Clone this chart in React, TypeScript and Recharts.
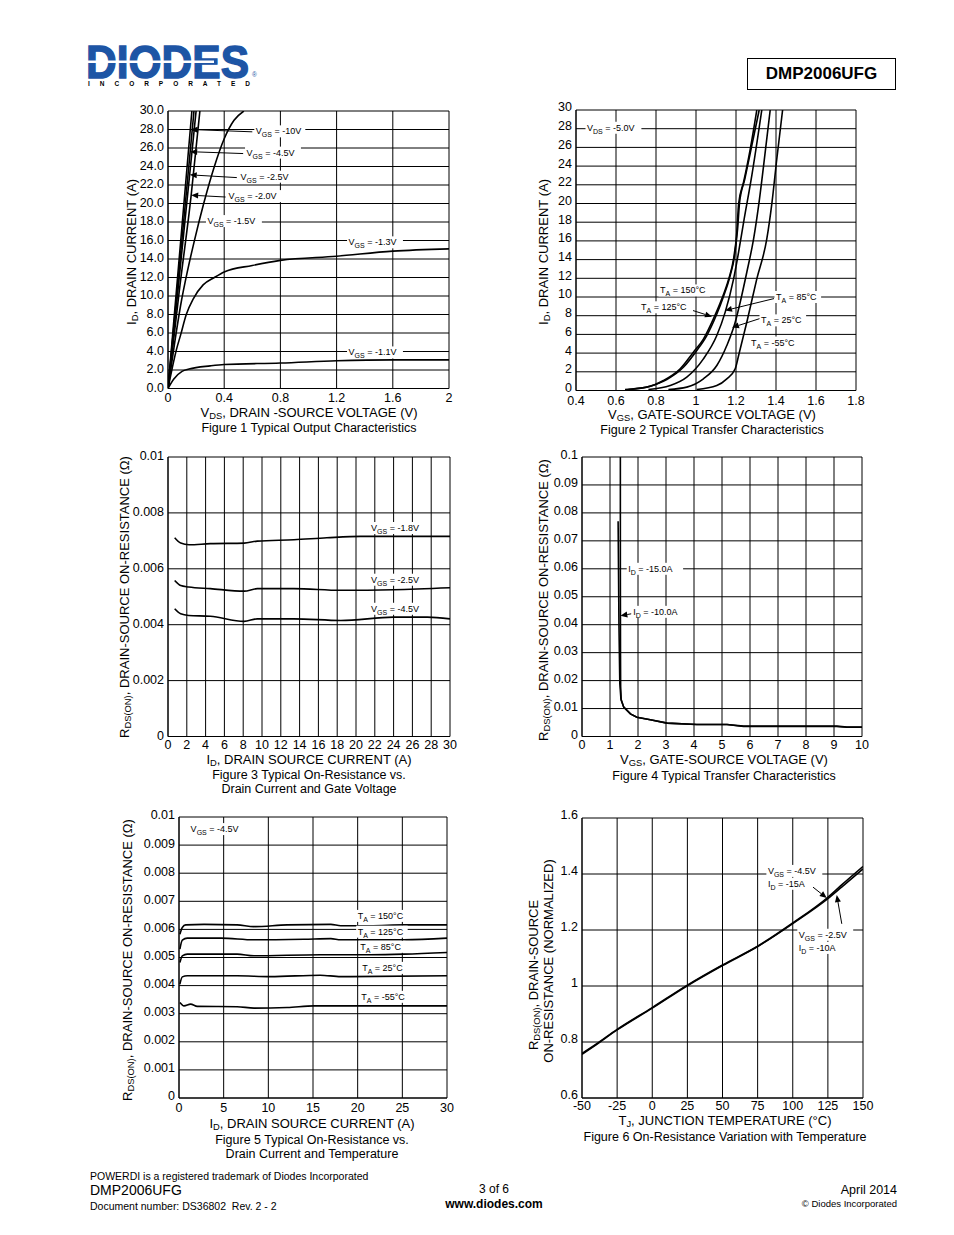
import React from "react";
import { LineChart, Line, XAxis, YAxis, CartesianGrid, ReferenceDot, ReferenceLine } from "recharts";

type Pt = [number, number];
type Anno = { x: number; y: number; a: string; s?: string; b: string };
type Arrow = [Pt, Pt];

const FONT = '"Liberation Sans", Arial, Helvetica, sans-serif';

// ---- Figure 1: output characteristics (VDS, ID)
const FIG1_VGS_10: Pt[] = [[0, 0], [0.085, 15], [0.17, 30]];
const FIG1_VGS_45: Pt[] = [[0, 0], [0.09, 14.6], [0.185, 30]];
const FIG1_VGS_25: Pt[] = [[0, 0], [0.1, 15], [0.2, 30]];
const FIG1_VGS_20: Pt[] = [[0, 0], [0.08, 10.5], [0.165, 20.9], [0.227, 30]];
const FIG1_VGS_15: Pt[] = [[0, 0], [0.05, 5.2], [0.09, 9], [0.14, 12.8], [0.185, 15.8], [0.256, 20.1], [0.33, 24], [0.4, 27], [0.47, 29], [0.54, 30]];
const FIG1_VGS_13: Pt[] = [[0, 0], [0.03, 2.2], [0.06, 4.2], [0.09, 5.8], [0.13, 8], [0.18, 9.7], [0.25, 11.2], [0.33, 12], [0.4, 12.6], [0.6, 13.3], [0.8, 13.85], [1.2, 14.3], [1.6, 14.85], [2, 15.1]];
const FIG1_VGS_11: Pt[] = [[0, 0], [0.04, 1], [0.1, 1.85], [0.15, 2.1], [0.3, 2.45], [0.4, 2.6], [0.8, 2.75], [1.2, 3], [1.6, 3.1], [2, 3.1]];
const FIG1_X_TICKS = [0, 0.4, 0.8, 1.2, 1.6, 2];
const FIG1_Y_TICKS = [0, 2, 4, 6, 8, 10, 12, 14, 16, 18, 20, 22, 24, 26, 28, 30];
const FIG1_LABELS: Anno[] = [
  { x: 0.625, y: 27.8, a: "V", s: "GS", b: " = -10V" },
  { x: 0.559, y: 25.5, a: "V", s: "GS", b: " = -4.5V" },
  { x: 0.516, y: 22.9, a: "V", s: "GS", b: " = -2.5V" },
  { x: 0.431, y: 20.8, a: "V", s: "GS", b: " = -2.0V" },
  { x: 0.281, y: 18.1, a: "V", s: "GS", b: " = -1.5V" },
  { x: 1.285, y: 15.8, a: "V", s: "GS", b: " = -1.3V" },
  { x: 1.285, y: 3.9, a: "V", s: "GS", b: " = -1.1V" },
];
const FIG1_ARROWS: Arrow[] = [
  [[0.6, 27.75], [0.16, 28]],
  [[0.535, 25.4], [0.158, 25.6]],
  [[0.49, 22.8], [0.155, 23.1]],
  [[0.41, 20.7], [0.165, 20.9]],
];

// ---- Figure 2: transfer characteristics (VGS, ID)
const FIG2_T150: Pt[] = [[0.645, 0.11], [0.754, 0.36], [0.837, 1.07], [0.921, 2.32], [0.987, 4.1], [1.037, 5.5], [1.087, 7.66], [1.129, 9.8], [1.163, 11.9], [1.188, 14.1], [1.204, 16.9], [1.213, 19.95], [1.238, 22.3], [1.271, 25.8], [1.304, 30]];
const FIG2_T125: Pt[] = [[0.662, 0.11], [0.77, 0.46], [0.854, 1.18], [0.937, 2.49], [1.004, 4.28], [1.054, 5.88], [1.101, 8.02], [1.138, 10.08], [1.171, 12.29], [1.193, 14.43], [1.208, 17.28], [1.218, 20.13], [1.244, 22.6], [1.279, 26.2], [1.316, 30]];
const FIG2_T85: Pt[] = [[0.762, 0.11], [0.871, 0.53], [0.954, 1.43], [1.037, 3.38], [1.104, 5.88], [1.146, 8.38], [1.188, 11.94], [1.213, 14.79], [1.238, 17.99], [1.279, 22.98], [1.329, 30]];
const FIG2_T25: Pt[] = [[0.862, 0.11], [0.954, 0.36], [1.037, 1.25], [1.104, 2.67], [1.154, 4.81], [1.196, 7.3], [1.221, 9.44], [1.254, 12.65], [1.288, 16.21], [1.313, 19.77], [1.338, 24.05], [1.371, 30]];
const FIG2_TM55: Pt[] = [[1.004, 0.11], [1.104, 0.53], [1.154, 1.25], [1.196, 2.32], [1.213, 3.74], [1.254, 7.3], [1.304, 11.94], [1.354, 16.21], [1.38, 20.13], [1.404, 24.76], [1.433, 30]];
const FIG2_X_TICKS = [0.4, 0.6, 0.8, 1, 1.2, 1.4, 1.6, 1.8];
const FIG2_Y_TICKS = [0, 2, 4, 6, 8, 10, 12, 14, 16, 18, 20, 22, 24, 26, 28, 30];
const FIG2_LABELS: Anno[] = [
  { x: 0.455, y: 28.1, a: "V", s: "DS", b: " = -5.0V" },
  { x: 0.82, y: 10.7, a: "T", s: "A", b: " = 150°C" },
  { x: 0.725, y: 8.9, a: "T", s: "A", b: " = 125°C" },
  { x: 1.4, y: 10.0, a: "T", s: "A", b: " = 85°C" },
  { x: 1.325, y: 7.5, a: "T", s: "A", b: " = 25°C" },
  { x: 1.275, y: 5.13, a: "T", s: "A", b: " = -55°C" },
];
const FIG2_ARROWS: Arrow[] = [
  [[0.985, 8.55], [1.08, 7.9]],
  [[1.39, 9.83], [1.145, 8.55]],
  [[1.32, 7.7], [1.18, 6.73]],
];

// ---- Figure 3: RDS(ON) vs ID and VGS
const FIG3_VGS_18: Pt[] = [[0.71, 0.00711], [1.35, 0.00692], [2.23, 0.00686], [4.5, 0.0069], [8.1, 0.00692], [9.5, 0.00699], [13.4, 0.00704], [16.9, 0.00711], [20.5, 0.00716], [24, 0.00716], [30, 0.00716]];
const FIG3_VGS_25: Pt[] = [[0.71, 0.00558], [1.35, 0.0054], [2.2, 0.00535], [4.5, 0.00529], [8.1, 0.0052], [9.5, 0.00529], [13.4, 0.00529], [18.4, 0.00523], [24, 0.00525], [30, 0.00532]];
const FIG3_VGS_45: Pt[] = [[0.71, 0.00457], [1.35, 0.00439], [2.2, 0.00433], [4.5, 0.0043], [8.1, 0.00412], [9.5, 0.00421], [13.4, 0.00421], [18.4, 0.00415], [24, 0.00427], [27.6, 0.00427], [30, 0.00421]];
const FIG3_X_TICKS = [0, 2, 4, 6, 8, 10, 12, 14, 16, 18, 20, 22, 24, 26, 28, 30];
const FIG3_Y_TICKS = [0, 0.002, 0.004, 0.006, 0.008, 0.01];
const FIG3_LABELS: Anno[] = [
  { x: 21.6, y: 0.00746, a: "V", s: "GS", b: " = -1.8V" },
  { x: 21.6, y: 0.00561, a: "V", s: "GS", b: " = -2.5V" },
  { x: 21.6, y: 0.00457, a: "V", s: "GS", b: " = -4.5V" },
];

// ---- Figure 4: RDS(ON) vs VGS
const FIG4_ID15: Pt[] = [[1.37, 0.1], [1.37, 0.06], [1.375, 0.03], [1.38, 0.018], [1.4, 0.013], [1.49, 0.0105], [1.73, 0.0081], [1.96, 0.0069], [2.44, 0.006], [3.04, 0.0048], [4.1, 0.0043], [5.18, 0.0043], [5.77, 0.0036], [6.7, 0.0036], [9.1, 0.0036], [9.46, 0.0033], [10, 0.0033]];
const FIG4_ID10: Pt[] = [[1.29, 0.077], [1.32, 0.04], [1.35, 0.019], [1.39, 0.0135], [1.49, 0.0105], [1.73, 0.0081], [1.96, 0.0069], [2.44, 0.006], [3.04, 0.0048], [4.1, 0.0043], [5.18, 0.0043], [5.77, 0.0037], [6.7, 0.0037], [9.1, 0.0037], [9.46, 0.0034], [10, 0.0034]];
const FIG4_X_TICKS = [0, 1, 2, 3, 4, 5, 6, 7, 8, 9, 10];
const FIG4_Y_TICKS = [0, 0.01, 0.02, 0.03, 0.04, 0.05, 0.06, 0.07, 0.08, 0.09, 0.1];
const FIG4_LABELS: Anno[] = [
  { x: 1.65, y: 0.06, a: "I", s: "D", b: " = -15.0A" },
  { x: 1.83, y: 0.0446, a: "I", s: "D", b: " = -10.0A" },
];
const FIG4_ARROWS: Arrow[] = [[[1.76, 0.0439], [1.37, 0.0432]]];

// ---- Figure 5: RDS(ON) vs ID and temperature
const FIG5_T150: Pt[] = [[0.1, 0.00583], [0.37, 0.00607], [0.75, 0.00616], [2.8, 0.00618], [6.5, 0.00616], [8.4, 0.0061], [12.1, 0.00616], [17, 0.00618], [18.1, 0.00613], [21.4, 0.00613], [25.2, 0.00616], [30, 0.00616]];
const FIG5_T125: Pt[] = [[0.1, 0.0053], [0.37, 0.00562], [0.93, 0.00569], [4.7, 0.00569], [8.4, 0.00563], [14, 0.00565], [17, 0.00567], [18.1, 0.00563], [25.2, 0.00563], [30, 0.00569]];
const FIG5_T85: Pt[] = [[0.1, 0.00482], [0.37, 0.00506], [0.93, 0.00512], [6.5, 0.00512], [8.4, 0.00506], [15.8, 0.0051], [21.4, 0.0051], [25.2, 0.00512], [30, 0.00518]];
const FIG5_T25: Pt[] = [[0.1, 0.00405], [0.37, 0.00431], [0.93, 0.00435], [6.5, 0.00435], [10.2, 0.00432], [15.8, 0.00437], [18.1, 0.00432], [30, 0.00435]];
const FIG5_TM55: Pt[] = [[0.1, 0.0034], [0.56, 0.00328], [1.3, 0.00334], [2.05, 0.00326], [6.5, 0.00325], [8.4, 0.0032], [12.1, 0.00322], [15.1, 0.00328], [30, 0.00328]];
const FIG5_X_TICKS = [0, 5, 10, 15, 20, 25, 30];
const FIG5_Y_TICKS = [0, 0.001, 0.002, 0.003, 0.004, 0.005, 0.006, 0.007, 0.008, 0.009, 0.01];
const FIG5_LABELS: Anno[] = [
  { x: 1.3, y: 0.00957, a: "V", s: "GS", b: " = -4.5V" },
  { x: 20, y: 0.00648, a: "T", s: "A", b: " = 150°C" },
  { x: 20, y: 0.00592, a: "T", s: "A", b: " = 125°C" },
  { x: 20.3, y: 0.00538, a: "T", s: "A", b: " = 85°C" },
  { x: 20.5, y: 0.00463, a: "T", s: "A", b: " = 25°C" },
  { x: 20.4, y: 0.0036, a: "T", s: "A", b: " = -55°C" },
];

// ---- Figure 6: normalized RDS(ON) vs junction temperature
const FIG6_VGS45: Pt[] = [[-50, 0.759], [-40, 0.792], [-25, 0.845], [0, 0.923], [25, 1.003], [50, 1.075], [75, 1.142], [100, 1.225], [125, 1.317], [135, 1.362], [150, 1.427]];
const FIG6_VGS25: Pt[] = [[-50, 0.756], [-40, 0.79], [-25, 0.843], [0, 0.921], [25, 1.001], [50, 1.073], [75, 1.141], [100, 1.223], [125, 1.312], [135, 1.354], [150, 1.418]];
const FIG6_X_TICKS = [-50, -25, 0, 25, 50, 75, 100, 125, 150];
const FIG6_Y_TICKS = [0.6, 0.8, 1, 1.2, 1.4, 1.6];
const FIG6_LABELS: Anno[] = [
  { x: 82.3, y: 1.411, a: "V", s: "GS", b: " = -4.5V" },
  { x: 82.3, y: 1.365, a: "I", s: "D", b: " = -15A" },
  { x: 104.3, y: 1.183, a: "V", s: "GS", b: " = -2.5V" },
  { x: 104.3, y: 1.136, a: "I", s: "D", b: " = -10A" },
];
const FIG6_ARROWS: Arrow[] = [
  [[114.2, 1.354], [124.2, 1.314]],
  [[134.9, 1.222], [131.3, 1.325]],
];

const toData = (pts: Pt[]) => pts.map(([x, y]) => ({ x, y }));

const annoShape = (a: Anno) => (props: any) => {
  const { cx, cy } = props;
  const w = (a.a.length + a.b.length) * 4.9 + (a.s ? a.s.length * 4.4 : 0);
  return (
    <g>
      <rect x={cx - 1.5} y={cy - 6} width={w + 3} height={12} fill="#fff" />
      <text x={cx} y={cy + 3} fontSize={9} fontFamily={FONT} fill="#000">
        <tspan>{a.a}</tspan>
        {a.s && <tspan dy={3} fontSize={7}>{a.s}</tspan>}
        <tspan dy={a.s ? -3 : 0}>{a.b}</tspan>
      </text>
    </g>
  );
};

const arrowShape = (props: any) => {
  const { x1, y1, x2, y2 } = props;
  const ang = Math.atan2(y2 - y1, x2 - x1);
  const L = 7;
  const W = 3;
  const bx = x2 - L * Math.cos(ang);
  const by = y2 - L * Math.sin(ang);
  const px = -Math.sin(ang) * W;
  const py = Math.cos(ang) * W;
  return (
    <g>
      <line x1={x1} y1={y1} x2={bx} y2={by} stroke="#000" strokeWidth={1} />
      <polygon points={`${x2},${y2} ${bx + px},${by + py} ${bx - px},${by - py}`} fill="#000" />
    </g>
  );
};

interface PanelProps {
  left: number;
  top: number;
  width: number;
  height: number;
  xDomain: [number, number];
  xTicks: number[];
  xFmt?: (v: number) => string;
  xGap: number;
  yDomain: [number, number];
  yTicks: number[];
  yFmt?: (v: number) => string;
  yDy?: number;
  series: Pt[][];
  curve?: "monotone" | "linear";
  labels: Anno[];
  arrows?: Arrow[];
}

const PAD_L = 60;
const PAD_R = 20;
const PAD_T = 10;
const PAD_B = 30;

const Panel = (p: PanelProps) => {
  const tick = { fill: "#000", fontSize: 12.5, fontFamily: FONT };
  return (
    <div style={{ position: "absolute", left: p.left - PAD_L, top: p.top - PAD_T }}>
      <LineChart
        width={p.width + PAD_L + PAD_R}
        height={p.height + PAD_T + PAD_B}
        margin={{ top: PAD_T, right: PAD_R, bottom: 0, left: 0 }}
      >
        <CartesianGrid stroke="#000" strokeWidth={1} />
        <XAxis
          type="number"
          dataKey="x"
          domain={p.xDomain}
          ticks={p.xTicks}
          interval={0}
          allowDataOverflow
          height={PAD_B}
          tickSize={0}
          tickMargin={p.xGap}
          axisLine={{ stroke: "#000" }}
          tick={tick}
          tickFormatter={p.xFmt}
        />
        <YAxis
          type="number"
          dataKey="y"
          domain={p.yDomain}
          ticks={p.yTicks}
          interval={0}
          allowDataOverflow
          width={PAD_L}
          tickSize={0}
          tickMargin={4}
          axisLine={{ stroke: "#000" }}
          tick={{ ...tick, dy: p.yDy ?? 0 }}
          tickFormatter={p.yFmt}
        />
        {p.series.map((s, i) => (
          <Line
            key={i}
            data={toData(s)}
            dataKey="y"
            type={p.curve ?? "monotone"}
            stroke="#000"
            strokeWidth={1.6}
            dot={false}
            isAnimationActive={false}
          />
        ))}
        {p.labels.map((a, i) => (
          <ReferenceDot key={"l" + i} x={a.x} y={a.y} r={1} ifOverflow="visible" shape={annoShape(a)} />
        ))}
        {(p.arrows ?? []).map((ar, i) => (
          <ReferenceLine
            key={"a" + i}
            segment={[{ x: ar[0][0], y: ar[0][1] }, { x: ar[1][0], y: ar[1][1] }]}
            ifOverflow="visible"
            shape={arrowShape}
          />
        ))}
      </LineChart>
    </div>
  );
};

const Sub = ({ children }: { children: React.ReactNode }) => (
  <span style={{ fontSize: "0.72em", verticalAlign: "-0.3em", lineHeight: 0 }}>{children}</span>
);

const Txt = ({
  x,
  y,
  size = 12.5,
  rotate = false,
  align = "center",
  bold = false,
  children,
}: {
  x: number;
  y: number;
  size?: number;
  rotate?: boolean;
  align?: "center" | "left" | "right";
  bold?: boolean;
  children: React.ReactNode;
}) => {
  const tx = align === "center" ? "-50%" : align === "right" ? "-100%" : "0";
  return (
    <div
      style={{
        position: "absolute",
        left: x,
        top: y,
        transform: `translate(${tx},-50%)${rotate ? " rotate(-90deg)" : ""}`,
        whiteSpace: "nowrap",
        fontSize: size,
        fontWeight: bold ? 700 : 400,
        lineHeight: 1,
        color: "#000",
      }}
    >
      {children}
    </div>
  );
};

const fix1 = (v: number) => v.toFixed(1);

export default function App() {
  return (
    <div
      style={{
        position: "absolute",
        left: 0,
        top: 0,
        width: 954,
        height: 1235,
        background: "#fff",
        fontFamily: FONT,
        overflow: "hidden",
      }}
    >
      {/* logo */}
      <svg style={{ position: "absolute", left: 0, top: 0 }} width={954} height={100}>
        <text
          x={86}
          y={77.5}
          fontFamily={FONT}
          fontWeight={700}
          fontSize={46}
          fill="#1d55a5"
          stroke="#1d55a5"
          strokeWidth={1.4}
          textLength={163}
          lengthAdjust="spacingAndGlyphs"
        >
          DIODES
        </text>
        <rect x={86} y={60.5} width={128} height={2.5} fill="#fff" />
        <text x={88} y={86} fontFamily={FONT} fontWeight={700} fontSize={6.5} fill="#000" textLength={162} lengthAdjust="spacing">
          INCORPORATED
        </text>
        <text x={252} y={77} fontFamily={FONT} fontSize={6.5} fill="#1d55a5">
          ®
        </text>
      </svg>

      {/* part number box */}
      <div
        style={{
          position: "absolute",
          left: 747,
          top: 58,
          width: 147,
          height: 30,
          border: "1.5px solid #000",
          display: "flex",
          alignItems: "center",
          justifyContent: "center",
          fontWeight: 700,
          fontSize: 17,
        }}
      >
        DMP2006UFG
      </div>

      {/* Figure 1 */}
      <Panel
        left={167.5}
        top={110.5}
        width={281}
        height={277.5}
        xDomain={[0, 2]}
        xTicks={FIG1_X_TICKS}
        xGap={5}
        yDomain={[0, 30]}
        yTicks={FIG1_Y_TICKS}
        yFmt={fix1}
        yDy={-1}
        series={[FIG1_VGS_10, FIG1_VGS_45, FIG1_VGS_25, FIG1_VGS_20, FIG1_VGS_15, FIG1_VGS_13, FIG1_VGS_11]}
        labels={FIG1_LABELS}
        arrows={FIG1_ARROWS}
      />
      <Txt x={309} y={412} size={13}>
        V<Sub>DS</Sub>, DRAIN -SOURCE VOLTAGE (V)
      </Txt>
      <Txt x={309} y={428}>Figure 1 Typical Output Characteristics</Txt>
      <Txt x={131} y={252} size={13} rotate>
        I<Sub>D</Sub>, DRAIN CURRENT (A)
      </Txt>

      {/* Figure 2 */}
      <Panel
        left={576}
        top={109.5}
        width={280}
        height={280.5}
        xDomain={[0.4, 1.8]}
        xTicks={FIG2_X_TICKS}
        xGap={6}
        yDomain={[0, 30]}
        yTicks={FIG2_Y_TICKS}
        yDy={-3}
        series={[FIG2_T150, FIG2_T125, FIG2_T85, FIG2_T25, FIG2_TM55]}
        labels={FIG2_LABELS}
        arrows={FIG2_ARROWS}
      />
      <Txt x={712} y={414} size={13}>
        V<Sub>GS</Sub>, GATE-SOURCE VOLTAGE (V)
      </Txt>
      <Txt x={712} y={430}>Figure 2 Typical Transfer Characteristics</Txt>
      <Txt x={543} y={252} size={13} rotate>
        I<Sub>D</Sub>, DRAIN CURRENT (A)
      </Txt>

      {/* Figure 3 */}
      <Panel
        left={167.5}
        top={456.5}
        width={282}
        height={279.5}
        xDomain={[0, 30]}
        xTicks={FIG3_X_TICKS}
        xGap={4}
        yDomain={[0, 0.01]}
        yTicks={FIG3_Y_TICKS}
        yDy={-1}
        series={[FIG3_VGS_18, FIG3_VGS_25, FIG3_VGS_45]}
        labels={FIG3_LABELS}
      />
      <Txt x={309} y={759} size={13}>
        I<Sub>D</Sub>, DRAIN SOURCE CURRENT (A)
      </Txt>
      <Txt x={309} y={775}>Figure 3 Typical On-Resistance vs.</Txt>
      <Txt x={309} y={789}>Drain Current and Gate Voltage</Txt>
      <Txt x={124} y={597} size={13} rotate>
        R<Sub>DS(ON)</Sub>, DRAIN-SOURCE ON-RESISTANCE (Ω)
      </Txt>

      {/* Figure 4 */}
      <Panel
        left={581.5}
        top={456.5}
        width={280}
        height={279.5}
        xDomain={[0, 10]}
        xTicks={FIG4_X_TICKS}
        xGap={4}
        yDomain={[0, 0.1]}
        yTicks={FIG4_Y_TICKS}
        yDy={-2}
        series={[FIG4_ID15, FIG4_ID10]}
        curve="linear"
        labels={FIG4_LABELS}
        arrows={FIG4_ARROWS}
      />
      <Txt x={724} y={759} size={13}>
        V<Sub>GS</Sub>, GATE-SOURCE VOLTAGE (V)
      </Txt>
      <Txt x={724} y={776}>Figure 4 Typical Transfer Characteristics</Txt>
      <Txt x={543} y={600} size={13} rotate>
        R<Sub>DS(ON)</Sub>, DRAIN-SOURCE ON-RESISTANCE (Ω)
      </Txt>

      {/* Figure 5 */}
      <Panel
        left={178.5}
        top={816.5}
        width={268}
        height={281}
        xDomain={[0, 30]}
        xTicks={FIG5_X_TICKS}
        xGap={5}
        yDomain={[0, 0.01]}
        yTicks={FIG5_Y_TICKS}
        yDy={-2}
        series={[FIG5_T150, FIG5_T125, FIG5_T85, FIG5_T25, FIG5_TM55]}
        labels={FIG5_LABELS}
      />
      <Txt x={312} y={1123} size={13}>
        I<Sub>D</Sub>, DRAIN SOURCE CURRENT (A)
      </Txt>
      <Txt x={312} y={1140}>Figure 5 Typical On-Resistance vs.</Txt>
      <Txt x={312} y={1154}>Drain Current and Temperature</Txt>
      <Txt x={127} y={960} size={13} rotate>
        R<Sub>DS(ON)</Sub>, DRAIN-SOURCE ON-RESISTANCE (Ω)
      </Txt>

      {/* Figure 6 */}
      <Panel
        left={581.5}
        top={817.5}
        width={281}
        height={280}
        xDomain={[-50, 150]}
        xTicks={FIG6_X_TICKS}
        xGap={3}
        yDomain={[0.6, 1.6]}
        yTicks={FIG6_Y_TICKS}
        yDy={-3}
        series={[FIG6_VGS45, FIG6_VGS25]}
        labels={FIG6_LABELS}
        arrows={FIG6_ARROWS}
      />
      <Txt x={725} y={1120} size={13}>
        T<Sub>J</Sub>, JUNCTION TEMPERATURE (°C)
      </Txt>
      <Txt x={725} y={1137}>Figure 6 On-Resistance Variation with Temperature</Txt>
      <Txt x={533} y={975} size={13} rotate>
        R<Sub>DS(ON)</Sub>, DRAIN-SOURCE
      </Txt>
      <Txt x={548} y={961} size={13} rotate>
        ON-RESISTANCE (NORMALIZED)
      </Txt>

      {/* footer */}
      <Txt x={90} y={1176} size={10.5} align="left">
        POWERDI is a registered trademark of Diodes Incorporated
      </Txt>
      <Txt x={90} y={1190} size={14} align="left">
        DMP2006UFG
      </Txt>
      <Txt x={90} y={1206} size={10.5} align="left">
        Document number: DS36802&nbsp; Rev. 2 - 2
      </Txt>
      <Txt x={494} y={1189} size={12}>
        3 of 6
      </Txt>
      <Txt x={494} y={1204} size={12} bold>
        www.diodes.com
      </Txt>
      <Txt x={897} y={1190} size={12.5} align="right">
        April 2014
      </Txt>
      <Txt x={897} y={1204} size={9.5} align="right">
        © Diodes Incorporated
      </Txt>
    </div>
  );
}
